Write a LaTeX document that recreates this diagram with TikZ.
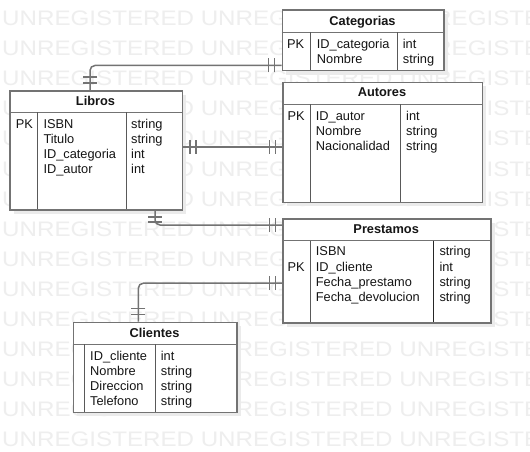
\documentclass[tikz,border=0pt]{standalone}
\usepackage{fontspec}
\setmainfont{Liberation Sans}
\usetikzlibrary{decorations.markings,shadows}

\definecolor{edge}{HTML}{737373}
\definecolor{wmark}{HTML}{EEEEEE}
\definecolor{shade}{HTML}{EBEBEB}
\definecolor{ink}{HTML}{151515}

\tikzset{
  entity/.style={draw=edge, line width=1.5pt, fill=white, anchor=north west,
    inner sep=0pt, drop shadow={fill=shade, opacity=1,
    shadow xshift=4pt, shadow yshift=-4pt}},
  divider/.style={draw=edge, line width=1.5pt},
  colsep/.style={draw=black!65, line width=1pt},
  field/.style={anchor=west, inner sep=0pt, text height=9.2pt, text depth=0pt,
    text=ink, font=\fontsize{12.8}{15}\selectfont},
  title/.style={anchor=center, inner sep=0pt, text height=9.2pt, text depth=0pt,
    text=ink, font=\fontsize{12.8}{15}\selectfont\bfseries},
  watermark/.style={anchor=west, inner sep=0pt, text height=15pt, text depth=0pt,
    text=wmark, xscale=1.15, font=\fontsize{21}{24}\selectfont},
  barmark/.style={draw=edge, line width=1.5pt},
  % two cross bars near the start / the end of a path
  startbars/.style 2 args={postaction={decorate, decoration={markings,
      mark=at position #1 with {\draw[barmark] (0,-7pt) -- (0,7pt);},
      mark=at position #2 with {\draw[barmark] (0,-7pt) -- (0,7pt);}}}},
  endbars/.style 2 args={postaction={decorate, decoration={markings,
      mark=at position -#1 with {\draw[barmark] (0,-7pt) -- (0,7pt);},
      mark=at position -#2 with {\draw[barmark] (0,-7pt) -- (0,7pt);}}}},
  link/.style={draw=edge, line width=1.5pt, rounded corners=5pt},
  rel/.style={link, startbars={7pt}{13pt}, endbars={7pt}{13pt}}
}

\begin{document}
\begin{tikzpicture}[x=1pt, y=-1pt]
  \fill[white] (0,0) rectangle (530,452);
  \clip[use as bounding box] (0,0) rectangle (530,452);

  % background stamp rows
  \foreach \k in {0,...,14}
    \node[watermark] (wm\k) at (2, 18+30.1*\k) {UNREGISTERED UNREGISTERED UNREGISTE};

  % entity boxes
  \node[entity, minimum width=161.6pt, minimum height=60.7pt] (categorias) at (281.7,9.3) {};
  \node[entity, minimum width=172.4pt, minimum height=119.3pt] (libros) at (9.3,90) {};
  \node[entity, minimum width=199.4pt, minimum height=120pt] (autores) at (282.3,81.7) {};
  \node[entity, minimum width=207.7pt, minimum height=104pt] (prestamos) at (282.3,218.3) {};
  \node[entity, minimum width=163.3pt, minimum height=90pt] (clientes) at (72.7,321.7) {};

  % header separators
  \draw[divider] (281.7,32.3) -- (443.3,32.3);
  \draw[divider] (9.3,112.3) -- (181.7,112.3);
  \draw[divider] (282.3,104.3) -- (481.7,104.3);
  \draw[divider] (282.3,240.7) -- (490,240.7);
  \draw[divider] (72.7,344.3) -- (236,344.3);

  % column separators
  \draw[colsep] (310,32.3) -- (310,70);
  \draw[colsep] (397.7,32.3) -- (397.7,70);
  \draw[colsep] (37.7,112.3) -- (37.7,209.3);
  \draw[colsep] (126,112.3) -- (126,209.3);
  \draw[colsep] (310,104.3) -- (310,201.7);
  \draw[colsep] (400.7,104.3) -- (400.7,201.7);
  \draw[colsep] (310,240.7) -- (310,322.3);
  \draw[colsep, draw=black!85] (433.3,240.7) -- (433.3,322.3);
  \draw[colsep] (84,344.3) -- (84,411.7);
  \draw[colsep] (155.7,344.3) -- (155.7,411.7);

  % Categorias
  \node[title] (t-cat) at (362.5,20.7) {Categorias};
  \node[field] (cat-pk) at (287,44) {PK};
  \node[field] (cat-n1) at (316.7,44) {ID\_categoria};
  \node[field] (cat-n2) at (316.7,59) {Nombre};
  \node[field] (cat-t1) at (402.7,44) {int};
  \node[field] (cat-t2) at (402.7,59) {string};

  % Libros
  \node[title] (t-lib) at (95.5,100.7) {Libros};
  \node[field] (lib-pk) at (15.7,123.5) {PK};
  \node[field] (lib-n1) at (43.3,123.5) {ISBN};
  \node[field] (lib-n2) at (43.3,138.5) {Titulo};
  \node[field] (lib-n3) at (43.3,153.5) {ID\_categoria};
  \node[field] (lib-n4) at (43.3,168.5) {ID\_autor};
  \node[field] (lib-t1) at (131,123.5) {string};
  \node[field] (lib-t2) at (131,138.5) {string};
  \node[field] (lib-t3) at (131,153.5) {int};
  \node[field] (lib-t4) at (131,168.5) {int};

  % Autores
  \node[title] (t-aut) at (382,92.3) {Autores};
  \node[field] (aut-pk) at (287.3,115.7) {PK};
  \node[field] (aut-n1) at (315.7,115.7) {ID\_autor};
  \node[field] (aut-n2) at (315.7,130.7) {Nombre};
  \node[field] (aut-n3) at (315.7,145.7) {Nacionalidad};
  \node[field] (aut-t1) at (406,115.7) {int};
  \node[field] (aut-t2) at (406,130.7) {string};
  \node[field] (aut-t3) at (406,145.7) {string};

  % Prestamos
  \node[title] (t-pre) at (386.2,229) {Prestamos};
  \node[field] (pre-pk) at (287.3,266.5) {PK};
  \node[field] (pre-n1) at (315.7,251) {ISBN};
  \node[field] (pre-n2) at (315.7,266.5) {ID\_cliente};
  \node[field] (pre-n3) at (315.7,281.5) {Fecha\_prestamo};
  \node[field] (pre-n4) at (315.7,296.5) {Fecha\_devolucion};
  \node[field] (pre-t1) at (439.3,251) {string};
  \node[field] (pre-t2) at (439.3,266.5) {int};
  \node[field] (pre-t3) at (439.3,281.5) {string};
  \node[field] (pre-t4) at (439.3,296.5) {string};

  % Clientes
  \node[title] (t-cli) at (154.5,332.7) {Clientes};
  \node[field] (cli-n1) at (90,355.5) {ID\_cliente};
  \node[field] (cli-n2) at (90,370.5) {Nombre};
  \node[field] (cli-n3) at (90,385.5) {Direccion};
  \node[field] (cli-n4) at (90,400.5) {Telefono};
  \node[field] (cli-t1) at (160.7,355.5) {int};
  \node[field] (cli-t2) at (160.7,370.5) {string};
  \node[field] (cli-t3) at (160.7,385.5) {string};
  \node[field] (cli-t4) at (160.7,400.5) {string};

  % relationships (one-and-only-one at both ends)
  \draw[rel] ([xshift=80.7pt]libros.north west) |- ([yshift=6pt]categorias.south west);
  \draw[rel] ([yshift=3.6pt]libros.east) -- ([yshift=3.6pt]libros.east -| autores.west);
  \draw[rel] ([xshift=65.6pt]clientes.north west) |- ([yshift=40.6pt]prestamos.south west);

  % short bend below Libros: bars set on the straight legs
  \coordinate (lp-a) at ([xshift=145.7pt]libros.south west);
  \coordinate (lp-b) at ([yshift=-6.7pt]prestamos.north west);
  \draw[link] (lp-a) |- (lp-b);
  \path[startbars={6pt}{11pt}] (lp-a) -- (lp-a |- lp-b);
  \path[endbars={7pt}{13pt}] (lp-a |- lp-b) -- (lp-b);
\end{tikzpicture}
\end{document}
